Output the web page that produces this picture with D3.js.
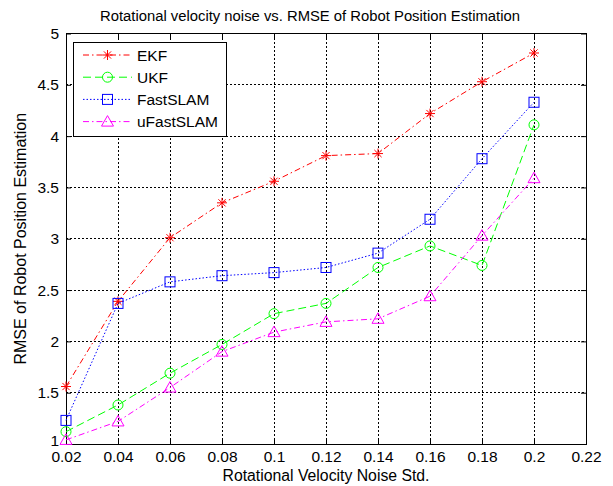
<!DOCTYPE html>
<html><head><meta charset="utf-8">
<script src="https://cdn.jsdelivr.net/npm/d3@7"></script>
<style>body{margin:0;background:#fff}svg{display:block}text{font-family:"Liberation Sans",Arial,sans-serif;fill:#000}</style>
</head><body>
<svg id="c" width="613" height="486"></svg>
<script>
const xValues = [0.02,0.04,0.06,0.08,0.1,0.12,0.14,0.16,0.18,0.2];
const ekf = [1.56,2.39,3.01,3.35,3.56,3.81,3.83,4.22,4.53,4.81];
const ukf = [1.12,1.38,1.69,1.97,2.27,2.37,2.72,2.93,2.74,4.11];
const fastslam = [1.23,2.37,2.58,2.64,2.67,2.72,2.86,3.19,3.78,4.33];
const ufastslam = [1.04,1.22,1.55,1.90,2.09,2.19,2.22,2.44,3.03,3.59];
const seriesNames = ["EKF","UKF","FastSLAM","uFastSLAM"];
const xTicks = [0.02,0.04,0.06,0.08,0.1,0.12,0.14,0.16,0.18,0.2,0.22];
const yTicks = [1,1.5,2,2.5,3,3.5,4,4.5,5];
const titleText = "Rotational velocity noise vs. RMSE of Robot Position Estimation";
const xLabel = "Rotational Velocity Noise Std.";
const yLabel = "RMSE of Robot Position Estimation";

const svg = d3.select("#c");
const L=66,R=586,T=33.5,B=444;
const x = d3.scaleLinear().domain([0.02,0.22]).range([L,R]);
const y = d3.scaleLinear().domain([1,5]).range([B,T]);

// grid
const g = svg.append("g");
g.selectAll(".gx").data(xTicks).join("line")
 .attr("x1",d=>x(d)).attr("x2",d=>x(d)).attr("y1",T).attr("y2",B)
 .attr("stroke","#000").attr("stroke-width",1).attr("stroke-dasharray","2,2").attr("shape-rendering","crispEdges");
g.selectAll(".gy").data(yTicks).join("line")
 .attr("y1",d=>y(d)).attr("y2",d=>y(d)).attr("x1",L).attr("x2",R)
 .attr("stroke","#000").attr("stroke-width",1).attr("stroke-dasharray","2,2").attr("shape-rendering","crispEdges");

// axes
const fmt = d=>String(+d.toFixed(2));
const xa = svg.append("g").attr("transform",`translate(0,${B})`)
 .call(d3.axisBottom(x).tickValues(xTicks).tickFormat(fmt).tickSizeInner(-5).tickSizeOuter(0).tickPadding(7));
const xt = svg.append("g").attr("transform",`translate(0,${T})`)
 .call(d3.axisTop(x).tickValues(xTicks).tickFormat("").tickSizeInner(-5).tickSizeOuter(0));
const ya = svg.append("g").attr("transform",`translate(${L},0)`)
 .call(d3.axisLeft(y).tickValues(yTicks).tickFormat(fmt).tickSizeInner(-5).tickSizeOuter(0).tickPadding(7));
const yr = svg.append("g").attr("transform",`translate(${R},0)`)
 .call(d3.axisRight(y).tickValues(yTicks).tickFormat("").tickSizeInner(-5).tickSizeOuter(0));
[xa,xt,ya,yr].forEach(a=>{a.select(".domain").remove();a.selectAll("line").attr("stroke","#000");
 a.selectAll("text").attr("font-family","Liberation Sans, Arial, sans-serif").attr("font-size",15.5).attr("fill","#000");});
ya.selectAll("text").filter(d=>d===1).attr("dy","0.1em");
svg.append("rect").attr("x",L).attr("y",T).attr("width",R-L).attr("height",B-T)
 .attr("fill","none").attr("stroke","#000").attr("stroke-width",1).attr("shape-rendering","crispEdges");

// series
const series = [
 {name:seriesNames[0], vals:ekf, color:"#ff0000", dash:"6,3,1.5,3", marker:"star"},
 {name:seriesNames[1], vals:ukf, color:"#00ff00", dash:"8,4", marker:"circle"},
 {name:seriesNames[2], vals:fastslam, color:"#0000ff", dash:"1.5,2", marker:"square"},
 {name:seriesNames[3], vals:ufastslam, color:"#ff00ff", dash:"6,3,1.5,3", marker:"triangle"}
];
const line = d3.line().x(d=>x(d[0])).y(d=>y(d[1]));
function drawMarker(sel, type, color, cx, cy){
  const m = sel.append("g").attr("transform",`translate(${cx},${cy})`);
  if(type==="star"){
    const r=5;
    [[-r,0,r,0],[0,-r,0,r],[-3.6,-3.6,3.6,3.6],[-3.6,3.6,3.6,-3.6]].forEach(l=>
      m.append("line").attr("x1",l[0]).attr("y1",l[1]).attr("x2",l[2]).attr("y2",l[3]).attr("stroke",color).attr("stroke-width",1));
  } else if(type==="circle"){
    m.append("circle").attr("r",5).attr("fill","none").attr("stroke",color).attr("stroke-width",1);
  } else if(type==="square"){
    m.append("rect").attr("x",-5).attr("y",-5).attr("width",10).attr("height",10).attr("fill","none").attr("stroke",color).attr("stroke-width",1);
  } else {
    m.append("path").attr("d","M0,-6L6,4.5L-6,4.5Z").attr("fill","none").attr("stroke",color).attr("stroke-width",1);
  }
}
series.forEach(s=>{
  const pts = xValues.map((xv,i)=>[xv,s.vals[i]]);
  svg.append("path").attr("d",line(pts)).attr("fill","none").attr("stroke",s.color)
   .attr("stroke-width",1).attr("stroke-dasharray",s.dash);
  pts.forEach(p=>drawMarker(svg,s.marker,s.color,x(p[0]),y(p[1])));
});

// legend
const lg = svg.append("g");
lg.append("rect").attr("x",73.5).attr("y",42.5).attr("width",153).attr("height",94)
 .attr("fill","#fff").attr("stroke","#000").attr("stroke-width",1);
series.forEach((s,i)=>{
  const ly = 55 + i*22.2;
  lg.append("line").attr("x1",83).attr("x2",132).attr("y1",ly).attr("y2",ly)
   .attr("stroke",s.color).attr("stroke-width",1).attr("stroke-dasharray",s.dash);
  drawMarker(lg,s.marker,s.color,107.5,ly);
  lg.append("text").attr("x",137).attr("y",ly).attr("dy","0.36em").attr("font-size",15.5).text(s.name);
});

// titles
svg.append("text").attr("x",310).attr("y",21).attr("text-anchor","middle").attr("font-size",15.5)
 .attr("textLength",420).attr("lengthAdjust","spacingAndGlyphs").text(titleText);
svg.append("text").attr("x",(L+R)/2).attr("y",481).attr("text-anchor","middle").attr("font-size",16)
 .attr("textLength",207).attr("lengthAdjust","spacingAndGlyphs").text(xLabel);
svg.append("text").attr("transform",`translate(26,${(T+B)/2}) rotate(-90)`).attr("text-anchor","middle").attr("font-size",16).text(yLabel);
</script>
</body></html>
